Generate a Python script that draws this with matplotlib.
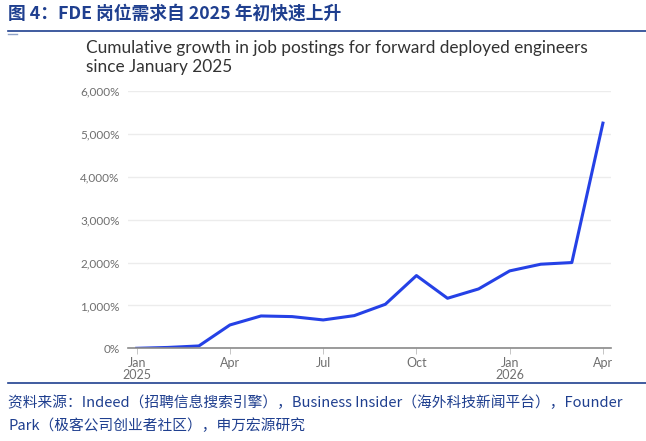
import matplotlib
matplotlib.use("Agg")
import matplotlib.pyplot as plt
from matplotlib.ticker import FuncFormatter
from matplotlib.lines import Line2D

plt.rcParams['font.family'] = ['Noto Sans CJK SC', 'DejaVu Sans']

# 数据：2025年1月至2026年4月，月度累计增幅（%）
months = ['2025-01', '2025-02', '2025-03', '2025-04', '2025-05', '2025-06', '2025-07', '2025-08',
          '2025-09', '2025-10', '2025-11', '2025-12', '2026-01', '2026-02', '2026-03', '2026-04']
growth = [0, 20, 55, 545, 755, 740, 662, 763, 1028, 1698, 1168, 1386, 1807, 1963, 2002, 5257]
tick_pos = [0, 3, 6, 9, 12, 15]
tick_labels = ['Jan\n2025', 'Apr', 'Jul', 'Oct', 'Jan\n2026', 'Apr']
yticks = [0, 1000, 2000, 3000, 4000, 5000, 6000]

title = '图 4：FDE 岗位需求自 2025 年初快速上升'
subtitle = 'Cumulative growth in job postings for forward deployed engineers\nsince January 2025'
source = ('资料来源：Indeed（招聘信息搜索引擎），Business Insider（海外科技新闻平台），Founder\n'
          'Park（极客公司创业者社区），申万宏源研究')

W, H = 646, 441
fig = plt.figure(figsize=(W / 100, H / 100), dpi=100)


def fx(px):
    return px / W


def fy(py):
    return 1 - py / H


navy = '#1f3f8f'

# 标题和分隔线
fig.text(fx(8), fy(14), title, color=navy, fontsize=12.8, fontweight='bold', va='center', ha='left')
fig.add_artist(Line2D([fx(8), 1], [fy(30.5), fy(30.5)], color=navy, lw=1.2))
fig.add_artist(Line2D([fx(8), fx(17)], [fy(33.5), fy(33.5)], color='#8fa3c8', lw=1.0))
fig.add_artist(Line2D([fx(8), 1], [fy(382.5), fy(382.5)], color=navy, lw=1.2))

fig.text(fx(86), fy(57.5), subtitle, color='#333333', fontsize=12.4, family=['Lato', 'DejaVu Sans'],
         va='center', ha='left', linespacing=1.18)

fig.text(fx(8), fy(414), source, color=navy, fontsize=10.6, va='center', ha='left', linespacing=1.72)

# 坐标区
x0, x1 = 128, 611
y_top, y_bot = 91.3, 348.3
ax = fig.add_axes([fx(x0), fy(y_bot), fx(x1) - fx(x0), (y_bot - y_top) / H])

xs = list(range(len(months)))
ax.plot(xs, growth, color='#2541e6', lw=2.2, solid_joinstyle='round', zorder=3)

ax.set_ylim(0, 6000)
ax.set_xlim(-0.28, 15.26)
ax.set_yticks(yticks)
ax.yaxis.set_major_formatter(FuncFormatter(lambda v, p: '{:,.0f}%'.format(v)))
ax.set_xticks(tick_pos)
ax.set_xticklabels(tick_labels)
ax.grid(axis='y', color='#ececec', lw=1.0)
ax.set_axisbelow(True)
for s in ['top', 'right', 'left']:
    ax.spines[s].set_visible(False)
ax.spines['bottom'].set_color('#8a8a8a')
ax.spines['bottom'].set_linewidth(1.2)
ax.spines['bottom'].set_zorder(4)
ax.tick_params(axis='y', length=0, pad=6, labelsize=8.5, labelcolor='#6f6f6f')
ax.tick_params(axis='x', length=4, width=0.6, color='#bbbbbb', pad=2, labelsize=9, labelcolor='#6f6f6f')
for lab in ax.get_xticklabels() + ax.get_yticklabels():
    lab.set_family(['Lato', 'DejaVu Sans'])
for lab in ax.get_xticklabels():
    lab.set_linespacing(1.0)

fig.savefig('out.png', dpi=100)
